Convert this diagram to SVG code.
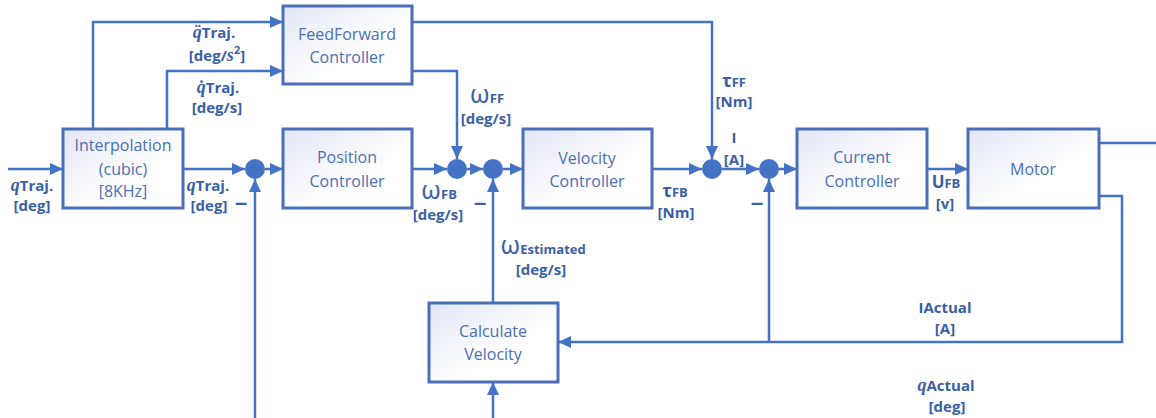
<svg xmlns="http://www.w3.org/2000/svg" width="1156" height="418" viewBox="0 0 1156 418">
<defs>
<linearGradient id="bg" x1="0" y1="0" x2="1" y2="1">
<stop offset="0" stop-color="#e2e6f4"/>
<stop offset="0.6" stop-color="#ffffff"/>
</linearGradient>
<marker id="ah" markerUnits="userSpaceOnUse" markerWidth="14" markerHeight="12" refX="13" refY="6" orient="auto">
<path d="M0,0 L13,6 L0,12 Z" fill="#4472c4"/>
</marker>
</defs>
<style>
.box{fill:url(#bg);stroke:#4a6fb8;stroke-width:3}
.bt{font-family:"Open Sans","Noto Sans",sans-serif;font-size:16px;fill:#4a6fb5;text-anchor:middle}
.ln{fill:none;stroke:#4472c4;stroke-width:2.5}
.lb{font-family:"Open Sans","Noto Sans",sans-serif;font-size:15px;font-weight:bold;fill:#3a5fa6;text-anchor:middle}
.q{font-family:"Liberation Serif","DejaVu Serif",serif;font-style:italic;font-weight:bold;font-size:18px}
.w{font-family:"Noto Sans",sans-serif;font-weight:normal;font-size:25px}
.sub{font-size:13px}
.mn{font-family:"Liberation Sans",sans-serif;font-size:22px;font-weight:bold;fill:#3a5fa6;text-anchor:middle}
.dot{fill:#4472c4}
</style>
<g id="connectors">
<path class="ln" d="M8,169 H63" marker-end="url(#ah)"/>
<path class="ln" d="M183,169 H245" marker-end="url(#ah)"/>
<path class="ln" d="M265,169 H283" marker-end="url(#ah)"/>
<path class="ln" d="M255,418 V179" marker-end="url(#ah)"/>
<path class="ln" d="M93,129 V22 H283" marker-end="url(#ah)"/>
<path class="ln" d="M167,129 V71 H283" marker-end="url(#ah)"/>
<path class="ln" d="M412,169 H447" marker-end="url(#ah)"/>
<path class="ln" d="M412,71 H457 V159" marker-end="url(#ah)"/>
<path class="ln" d="M467,169 H483" marker-end="url(#ah)"/>
<path class="ln" d="M503,169 H523" marker-end="url(#ah)"/>
<path class="ln" d="M493,303 V179" marker-end="url(#ah)"/>
<path class="ln" d="M652,169 H702" marker-end="url(#ah)"/>
<path class="ln" d="M412,22 H712 V159" marker-end="url(#ah)"/>
<path class="ln" d="M722,169 H759" marker-end="url(#ah)"/>
<path class="ln" d="M779,169 H797" marker-end="url(#ah)"/>
<path class="ln" d="M927,169 H968" marker-end="url(#ah)"/>
<path class="ln" d="M1099,143 H1156"/>
<path class="ln" d="M1099,196 H1122 V342 H558" marker-end="url(#ah)"/>
<path class="ln" d="M769,342 V179" marker-end="url(#ah)"/>
<path class="ln" d="M493,418 V382" marker-end="url(#ah)"/>
</g>
<g id="junctions">
<circle class="dot" cx="255" cy="169" r="10"/>
<circle class="dot" cx="457" cy="169" r="10"/>
<circle class="dot" cx="493" cy="169" r="10"/>
<circle class="dot" cx="712" cy="169" r="10"/>
<circle class="dot" cx="769" cy="169" r="10"/>
</g>
<g id="interpolation">
<rect class="box" x="63" y="129" width="120" height="79"/>
<text class="bt" x="123" y="151">Interpolation</text>
<text class="bt" x="123" y="175">(cubic)</text>
<text class="bt" x="123" y="197">[8KHz]</text>
</g>
<g id="feedforward">
<rect class="box" x="283" y="6" width="129" height="78"/>
<text class="bt" x="347" y="40">FeedForward</text>
<text class="bt" x="347" y="63">Controller</text>
</g>
<g id="position">
<rect class="box" x="283" y="129" width="129" height="79"/>
<text class="bt" x="347" y="163">Position</text>
<text class="bt" x="347" y="187">Controller</text>
</g>
<g id="velocity">
<rect class="box" x="523" y="129" width="129" height="79"/>
<text class="bt" x="587" y="164">Velocity</text>
<text class="bt" x="587" y="187">Controller</text>
</g>
<g id="current">
<rect class="box" x="797" y="129" width="130" height="79"/>
<text class="bt" x="862" y="163">Current</text>
<text class="bt" x="862" y="187">Controller</text>
</g>
<g id="motor">
<rect class="box" x="968" y="129" width="131" height="79"/>
<text class="bt" x="1033" y="175">Motor</text>
</g>
<g id="calcvel">
<rect class="box" x="429" y="303" width="129" height="79"/>
<text class="bt" x="493" y="337">Calculate</text>
<text class="bt" x="493" y="360">Velocity</text>
</g>
<g id="labels">
<text class="lb" x="32" y="191"><tspan class="q">q</tspan>Traj.</text>
<text class="lb" x="32" y="211">[deg]</text>
<text class="lb" x="208" y="191"><tspan class="q">q</tspan>Traj.</text>
<text class="lb" x="209" y="211">[deg]</text>
<text class="mn" x="241" y="210">–</text>
<text class="lb" x="214" y="38"><tspan class="q">q̈</tspan>Traj.</text>
<text class="lb" x="217" y="61">[deg/<tspan class="q" font-size="18">s</tspan><tspan font-size="11" dy="-7">2</tspan><tspan dy="7">]</tspan></text>
<text class="lb" x="218" y="93"><tspan class="q">q̇</tspan>Traj.</text>
<text class="lb" x="217" y="113">[deg/s]</text>
<text class="lb" x="487" y="103"><tspan class="w">ω</tspan><tspan class="sub">FF</tspan></text>
<text class="lb" x="486" y="124">[deg/s]</text>
<text class="lb" x="439" y="199"><tspan class="w">ω</tspan><tspan class="sub">FB</tspan></text>
<text class="lb" x="438" y="220">[deg/s]</text>
<text class="mn" x="480" y="210">–</text>
<text class="lb" x="543" y="254"><tspan class="w">ω</tspan><tspan class="sub" font-size="14">Estimated</tspan></text>
<text class="lb" x="541" y="275">[deg/s]</text>
<text class="lb" x="734" y="87"><tspan font-size="18">τ</tspan><tspan class="sub" font-size="12">FF</tspan></text>
<text class="lb" x="734" y="107">[Nm]</text>
<text class="lb" x="734" y="143">I</text>
<text class="lb" x="734" y="165">[A]</text>
<text class="lb" x="675" y="197"><tspan font-size="18">τ</tspan><tspan class="sub" font-size="14">FB</tspan></text>
<text class="lb" x="676" y="218">[Nm]</text>
<text class="mn" x="757" y="210">–</text>
<text class="lb" x="946" y="188"><tspan font-size="17">U</tspan><tspan class="sub" font-size="14">FB</tspan></text>
<text class="lb" x="945" y="209">[v]</text>
<text class="lb" x="945" y="313">IActual</text>
<text class="lb" x="945" y="334">[A]</text>
<text class="lb" x="946" y="391"><tspan class="q">q</tspan>Actual</text>
<text class="lb" x="947" y="412">[deg]</text>
</g>
</svg>
